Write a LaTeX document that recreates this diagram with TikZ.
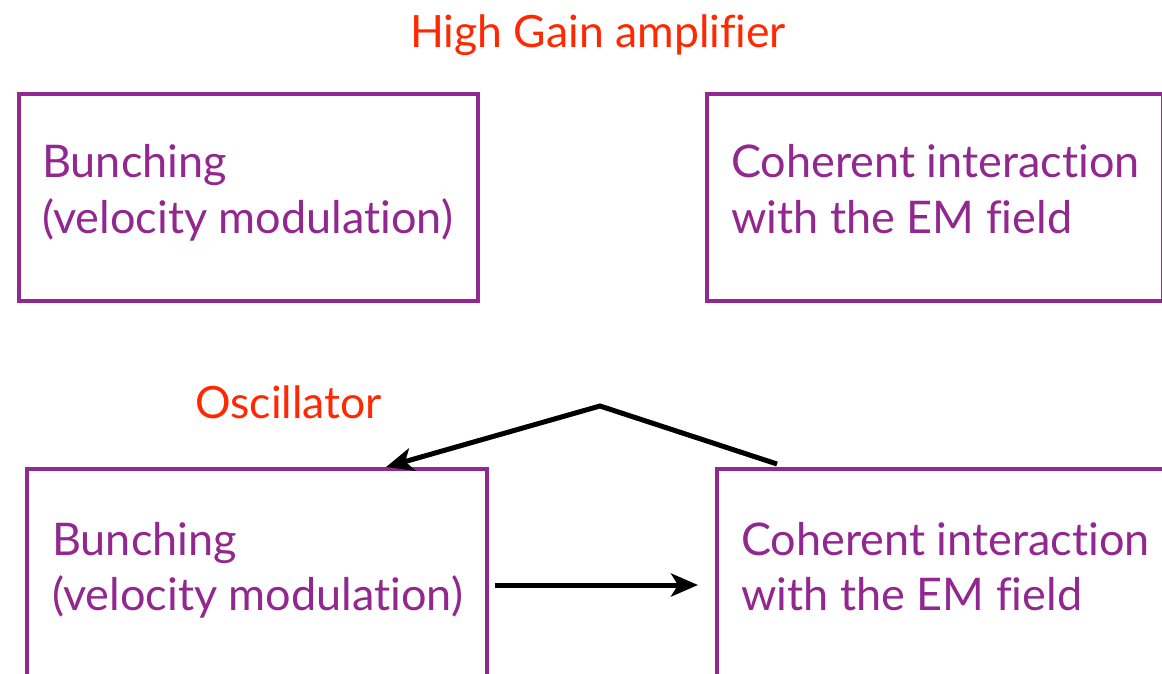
\documentclass[tikz,border=0pt]{standalone}
\usepackage{fontspec}
\setmainfont[Ligatures=NoCommon]{Lato}
\usetikzlibrary{arrows.meta,calc}
\definecolor{boxpurple}{RGB}{146,39,143}
\definecolor{titlered}{RGB}{255,40,0}
\tikzset{
  box/.style={draw=boxpurple, line width=4pt, anchor=north west, inner sep=0pt},
  boxtext/.style={text=boxpurple, anchor=base west, inner sep=0pt, font=\fontsize{45}{55}\selectfont},
  title/.style={text=titlered, anchor=base west, inner sep=0pt, font=\fontsize{44.5}{50}\selectfont},
  arr/.style={line width=5pt, -{Stealth[length=27pt,width=23pt,inset=7pt]}}
}
\begin{document}
\begin{tikzpicture}[x=1pt,y=-1pt]
\useasboundingbox (0,0) rectangle (1162,674);
\clip (0,0) rectangle (1162,674);
% boxes
\node[box, minimum width=459pt, minimum height=207pt] (tl) at (17,92) {};
\node[box, minimum width=456pt, minimum height=207pt] (tr) at (705,92) {};
\node[box, minimum width=460pt, minimum height=260pt] (bl) at (25,467) {};
\node[box, minimum width=500pt, minimum height=260pt] (br) at (715,467) {};
% titles
\node[title] (hg) at (410,48) {High Gain amplifier};
\node[title] (osc) at (195,418) {Oscillator};
% texts
\node[boxtext] (tl1) at (42,178) {Bunching};
\node[boxtext] (tl2) at (42,233) {(velocity modulation)};
\node[boxtext] (tr1) at (731,178) {Coherent interaction};
\node[boxtext] (tr2) at (731,233) {with the EM field};
\node[boxtext] (bl1) at (52,555) {Bunching};
\node[boxtext] (bl2) at (52,610) {(velocity modulation)};
\node[boxtext] (br1) at (741,555) {Coherent interaction};
\node[boxtext] (br2) at (741,610) {with the EM field};
% connectors
\coordinate (fbstart) at ($(br.north west)+(62,-3)$);
\coordinate (apex) at (600,406);
\coordinate (fbend) at ($(bl.north west)+(361,0)$);
\draw[arr, line join=miter] (fbstart) -- (apex) -- (fbend);
\coordinate (hs) at (495,585);
\coordinate (he) at (698,585);
\draw[arr] (hs) -- (he);
\end{tikzpicture}
\end{document}
